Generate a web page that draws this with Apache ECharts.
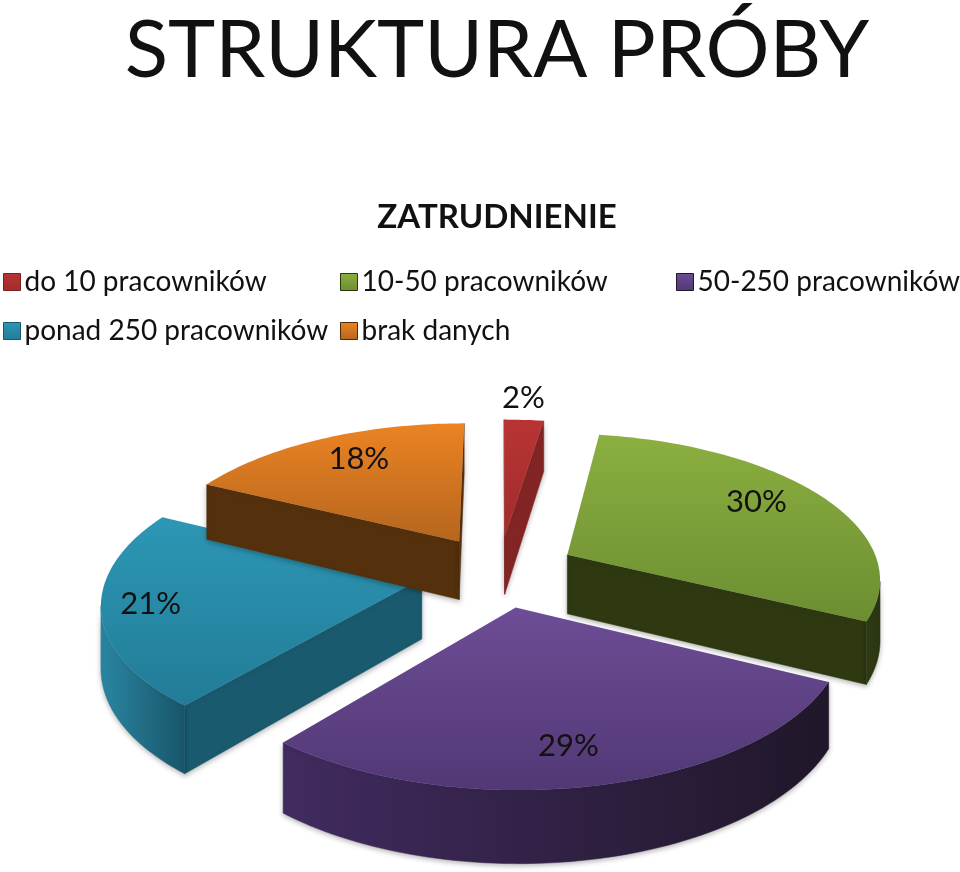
<!DOCTYPE html>
<html><head><meta charset="utf-8">
<style>html,body{margin:0;padding:0;background:#fff}#c{width:960px;height:872px}</style>
<script src="https://cdn.jsdelivr.net/npm/echarts@6/dist/echarts.min.js"></script>
</head><body><div id="c"></div>
<script>
var categories = ['do 10 pracowników','10-50 pracowników','50-250 pracowników','ponad 250 pracowników','brak danych'];
var shares = [2.4,30,28.6,21.4,17.6];
var chartTitle = 'STRUKTURA PRÓBY';
var chartSubtitle = 'ZATRUDNIENIE';

var topColors  = [['#B83434','#A22B2B'],['#8BAF40','#6C8E32'],['#6D4D96','#523875'],['#2C97B5','#227C97'],['#EC8323','#B5661E']];
var wallColors = [['#8A2626','#7A2020'],['#2F3B14','#2B3610'],['#412B60','#201729'],['#2A86A2','#18566A'],['#56310D','#4F2B09']];
var radialWall = ['#842525','#2E3912','#2A1C40','#1A5A6E','#55300C'];
var stackOrder = [2,3,5,4,6];
var labelReach = [1.22,0.775,0.80,0.849,0.767];
var labelSweep = [0.415,0.465,0.52,0.504,0.538];
var legendLeft = [3,340,676,3,340];
var legendTop  = [268,268,268,317,317];

var cx=499, cy=571, A=313, B=143.6, persp=0.148, explode=0.25, depth=60;
var total = shares.reduce(function(a,b){return a+b;},0);
function grad(c,h){return new echarts.graphic.LinearGradient(0,0,h?1:0,h?0:1,[{offset:0,color:c[0]},{offset:1,color:c[1]}]);}
function proj(X,Y,z){var w=1+persp*Y;return [cx+A*X/w, cy-B*Y/w+(z?depth/w:0)];}

function renderSlice(params,api){
  var i=params.seriesIndex, v=api.value(0), before=0;
  for(var k=0;k<i;k++)before+=shares[k];
  var a0=before/total*2*Math.PI, a1=(before+v)/total*2*Math.PI, mid=(a0+a1)/2;
  var ox=explode*Math.sin(mid), oy=explode*Math.cos(mid);
  var n=Math.max(6,Math.round((a1-a0)*40)), rim=[];
  for(var j=0;j<=n;j++){var t=a0+(a1-a0)*j/n;rim.push([ox+Math.sin(t),oy+Math.cos(t)]);}
  var apex=[ox,oy], children=[];
  function wall(pts,fill){
    var up=pts.map(function(p){return proj(p[0],p[1],false);});
    var dn=pts.map(function(p){return proj(p[0],p[1],true);}).reverse();
    children.push({type:'polygon',shape:{points:up.concat(dn)},style:{fill:fill,stroke:fill,lineWidth:0.5,shadowBlur:5,shadowColor:'rgba(0,0,0,0.28)',shadowOffsetY:2}});
  }
  var sA=proj(apex[0],apex[1]), s0=proj(rim[0][0],rim[0][1]), s1=proj(rim[n][0],rim[n][1]);
  if(s0[0]<sA[0]) wall([apex,rim[0]],radialWall[i]);
  if(sA[0]<s1[0]) wall([rim[n],apex],radialWall[i]);
  var seg=[];
  for(j=0;j<=n;j++){
    var front=j<n && proj(rim[j+1][0],rim[j+1][1])[0]<proj(rim[j][0],rim[j][1])[0];
    if(front){ if(!seg.length) seg.push(rim[j]); seg.push(rim[j+1]); }
  }
  if(seg.length>1) wall(seg,grad(wallColors[i],true));
  var top=[apex].concat(rim).map(function(p){return proj(p[0],p[1],false);});
  children.push({type:'polygon',shape:{points:top},style:{fill:grad(topColors[i],false)}});
  var r=labelReach[i], la=a0+(a1-a0)*labelSweep[i], lp=proj(ox+r*Math.sin(la),oy+r*Math.cos(la),false);
  children.push({type:'text',style:{text:Math.round(v)+'%',x:lp[0],y:lp[1],fill:'#111',font:'31px Lato, sans-serif',textAlign:'center',textVerticalAlign:'middle'},z2:10});
  return {type:'group',children:children};
}

var series=categories.map(function(name,i){
  return {type:'custom',name:name,coordinateSystem:'none',renderItem:renderSlice,data:[[shares[i]]],z:stackOrder[i],
    itemStyle:{color:topColors[i][0]},animation:false,silent:true};
});
var legends=categories.map(function(name,i){
  return {left:legendLeft[i],top:legendTop[i],itemWidth:17,itemHeight:17,padding:0,selectedMode:false,itemGap:0,
    data:[{name:name,icon:'rect',itemStyle:{color:grad(topColors[i],false),borderColor:wallColors[i][1],borderWidth:1}}],
    textStyle:{fontFamily:'Lato',fontSize:28,color:'#111',padding:[0,0,0,-1]}};
});
var chart=echarts.init(document.getElementById('c'),null,{renderer:'canvas'});
chart.setOption({
  animation:false,backgroundColor:'#fff',
  title:[
    {text:chartTitle,left:497,textAlign:'center',top:11,padding:0,textStyle:{fontFamily:'Lato',fontWeight:'normal',fontSize:80,color:'#111'}},
    {text:chartSubtitle,left:497,top:201,padding:0,textAlign:'center',textStyle:{fontFamily:'Lato',fontWeight:'bold',fontSize:33,color:'#111'}}
  ],
  legend:legends,
  series:series
});
</script></body></html>
